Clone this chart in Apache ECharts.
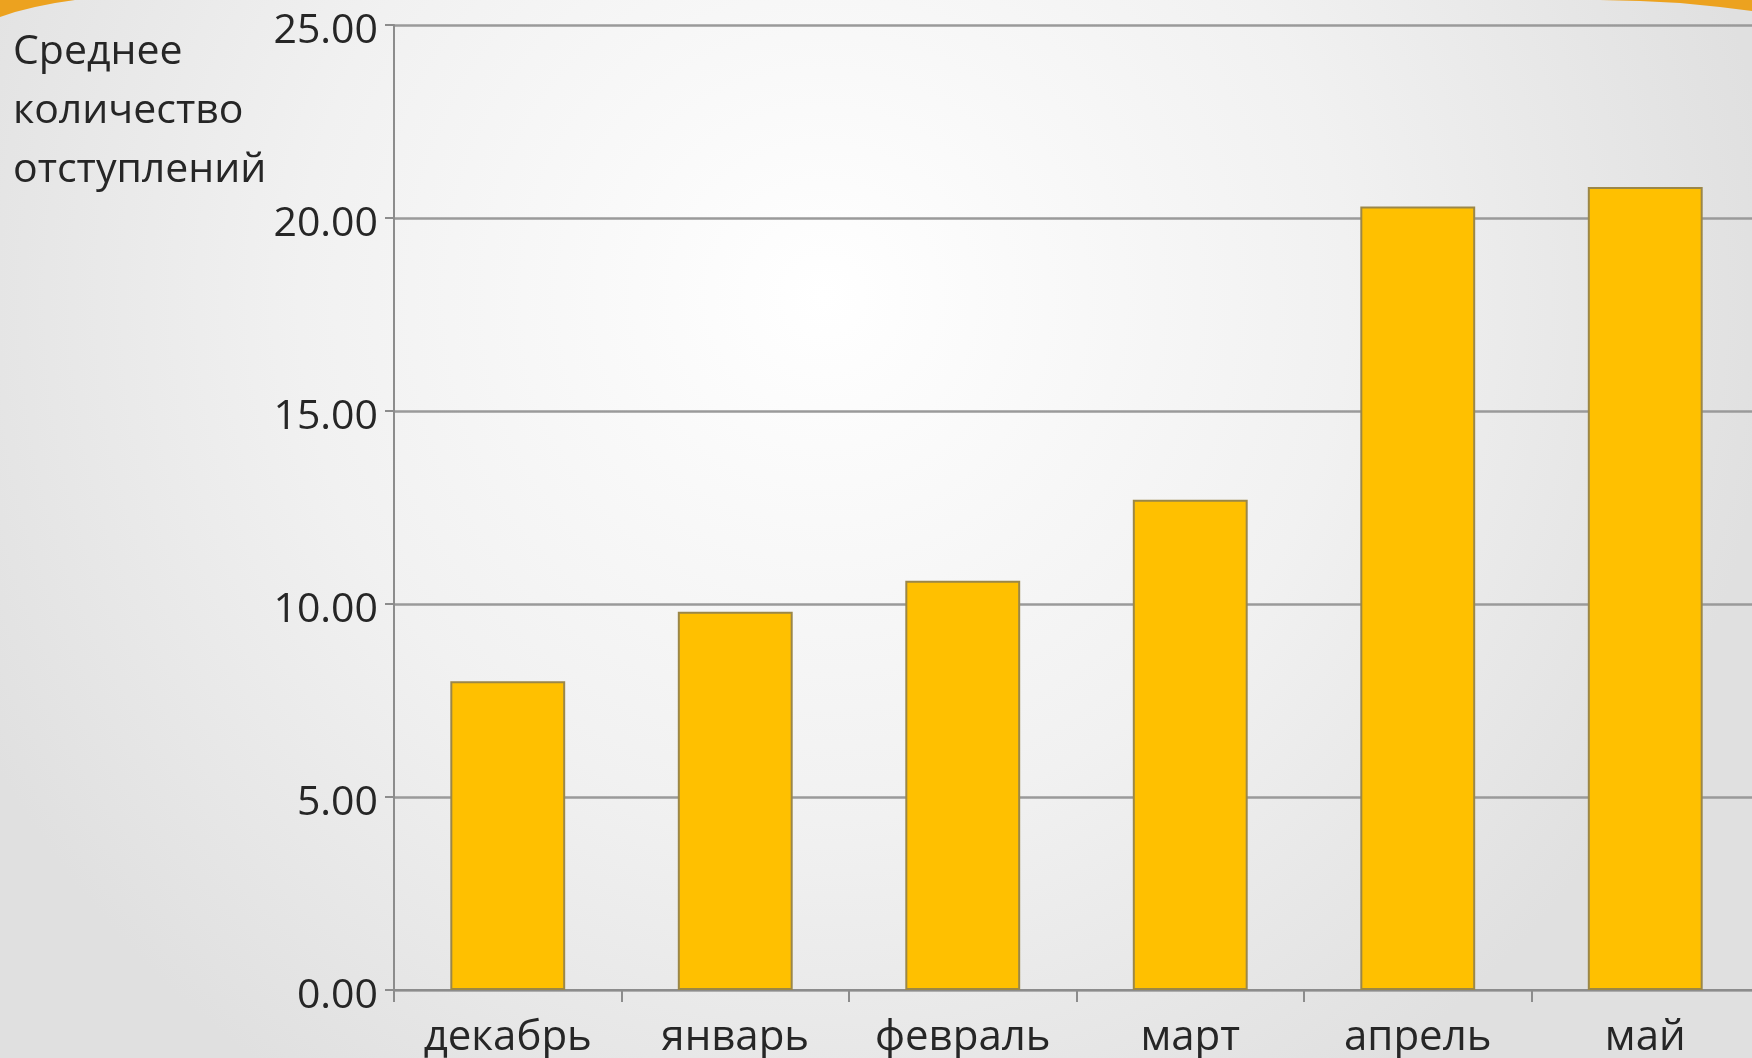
<!DOCTYPE html>
<html>
<head>
<meta charset="utf-8">
<script src="https://cdn.jsdelivr.net/npm/echarts@6/dist/echarts.min.js"></script>
<style>
html,body{margin:0;padding:0;width:1752px;height:1058px;overflow:hidden;background:#eee;}
#chart{width:1752px;height:1058px;}
</style>
</head>
<body>
<div id="chart"></div>
<script>
const months = ['декабрь', 'январь', 'февраль', 'март', 'апрель', 'май'];
const avgDeviations = [8.0, 9.8, 10.6, 12.7, 20.3, 20.8];
const yTicks = { min: 0, max: 25, interval: 5 };
const axisTitle = 'Среднее\nколичество\nотступлений';

const FONT = '"Open Sans", "Noto Sans", sans-serif';
const chart = echarts.init(document.getElementById('chart'), null, { renderer: 'canvas' });

chart.setOption({
  backgroundColor: {
    type: 'radial', x: 0.47, y: 0.28, r: 0.9,
    colorStops: [
      { offset: 0, color: '#ffffff' },
      { offset: 0.55, color: '#f1f1f1' },
      { offset: 1, color: '#e0e0e0' }
    ]
  },
  animation: false,
  textStyle: { fontFamily: FONT },
  title: {
    text: axisTitle,
    left: 8,
    top: 18,
    textStyle: { fontFamily: FONT, fontSize: 41, fontWeight: 'normal', color: '#262626', lineHeight: 59 }
  },
  graphic: [
    {
      type: 'polygon',
      shape: { points: [[0, 0], [75, 0], [55, 3], [35, 7], [15, 12], [0, 17]] },
      style: { fill: '#eca21f' }
    },
    {
      type: 'polygon',
      shape: { points: [[1600, 0], [1752, 0], [1752, 11], [1720, 7], [1680, 3], [1640, 1]] },
      style: { fill: '#eca21f' }
    }
  ],
  grid: { left: 394, width: 1365, top: 25, bottom: 68, containLabel: false, outerBoundsMode: 'none' },
  xAxis: {
    type: 'category',
    data: months,
    axisLine: { show: true, lineStyle: { color: '#8c8c8c', width: 2 } },
    axisTick: { show: true, interval: 0, length: 12, lineStyle: { color: '#8c8c8c', width: 2 } },
    axisLabel: { interval: 0, fontFamily: FONT, fontSize: 42, color: '#262626', margin: 27 }
  },
  yAxis: {
    type: 'value',
    min: yTicks.min, max: yTicks.max, interval: yTicks.interval,
    axisLine: { show: true, lineStyle: { color: '#8c8c8c', width: 2 } },
    axisTick: { show: true, length: 9, lineStyle: { color: '#8c8c8c', width: 2 } },
    splitLine: { show: true, lineStyle: { color: '#9a9a9a', width: 2.5 } },
    axisLabel: {
      fontFamily: FONT, fontSize: 41, color: '#262626', margin: 16,
      verticalAlign: 'top', lineHeight: 12,
      formatter: v => v.toFixed(2)
    }
  },
  series: [{
    type: 'bar',
    data: avgDeviations,
    barWidth: '50.5%',
    itemStyle: { color: '#ffc000', borderColor: '#9b8748', borderWidth: 2 }
  }]
});
</script>
</body>
</html>
